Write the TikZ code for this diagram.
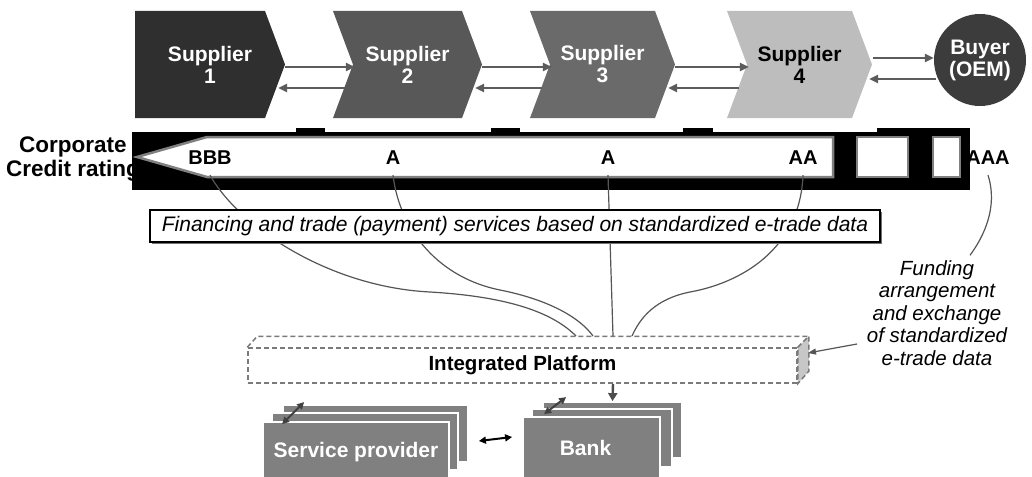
\documentclass[tikz,border=0pt]{standalone}
\usepackage{fontspec}
\setmainfont{Liberation Sans}
\usetikzlibrary{arrows.meta,shadows}
\definecolor{sone}{HTML}{2F2F2F}
\definecolor{stwo}{HTML}{585858}
\definecolor{sthree}{HTML}{6A6A6A}
\definecolor{sfour}{HTML}{BDBDBD}
\definecolor{buyc}{HTML}{3C3C3C}
\definecolor{flowc}{HTML}{5C5C5C}
\definecolor{outl}{HTML}{808080}
\definecolor{linec}{HTML}{555555}
\definecolor{dashc}{HTML}{7A7A7A}
\definecolor{stackc}{HTML}{808080}
\begin{document}
\begin{tikzpicture}[x=1pt,y=-1pt,
  lbl/.style={font=\fontsize{21}{21}\selectfont\bfseries, text=white, align=center, inner sep=0pt},
  flow/.style={draw=flowc, line width=2.4pt, -{Triangle[length=9pt,width=8pt]}},
  rate/.style={font=\fontsize{20}{20}\selectfont\bfseries, inner sep=0pt, minimum height=34pt},
  conn/.style={draw=linec, line width=1.2pt},
  dashline/.style={draw=dashc, line width=1.5pt, dash pattern=on 5pt off 3pt},
  stackbox/.style={fill=stackc, draw=white, line width=1.8pt, inner sep=0pt},
  dbl/.style={draw=black!75, line width=2pt, {Triangle[length=7pt,width=7pt]}-{Triangle[length=7pt,width=7pt]}}
]
\useasboundingbox (0,0) rectangle (1032,476);

% supplier chevrons
\fill[sone] (135,11) -- (265,11) -- (285,64.5) -- (265,118) -- (135,118) -- cycle;
\fill[stwo] (333,11) -- (462,11) -- (482,64.5) -- (462,118) -- (333,118) -- (353,64.5) -- cycle;
\fill[sthree] (530,11) -- (655,11) -- (675,64.5) -- (655,118) -- (530,118) -- (550,64.5) -- cycle;
\fill[sfour] (727,11) -- (852,11) -- (872,64.5) -- (852,118) -- (727,118) -- (747,64.5) -- cycle;

\node[lbl, minimum width=150pt, minimum height=107pt] (s1) at (210,64.5) {Supplier\\[1pt]1};
\node[lbl, minimum width=149pt, minimum height=107pt] (s2) at (407.5,64.5) {Supplier\\[1pt]2};
\node[lbl, minimum width=145pt, minimum height=107pt] (s3) at (602.5,64.5) {Supplier\\[1pt]3};
\node[lbl, text=black, minimum width=145pt, minimum height=107pt] (s4) at (799.5,64.5) {Supplier\\[1pt]4};
\node[lbl, circle, fill=buyc, minimum size=92pt] (buyer) at (980,60) {Buyer\\[1pt](OEM)};

% flows between suppliers
\draw[flow] ([yshift=-2.5pt]s1.east) -- ([xshift=22pt,yshift=-2.5pt]s2.west);
\draw[flow] ([xshift=12pt,yshift=-23.5pt]s2.west) -- ([xshift=-7pt,yshift=-23.5pt]s1.east);
\draw[flow] ([yshift=-2.5pt]s2.east) -- ([xshift=22pt,yshift=-2.5pt]s3.west);
\draw[flow] ([xshift=12pt,yshift=-23.5pt]s3.west) -- ([xshift=-7pt,yshift=-23.5pt]s2.east);
\draw[flow] ([yshift=-2.5pt]s3.east) -- ([xshift=22pt,yshift=-2.5pt]s4.west);
\draw[flow] ([xshift=12pt,yshift=-23.5pt]s4.west) -- ([xshift=-7pt,yshift=-23.5pt]s3.east);
\draw[flow] ([xshift=1pt,yshift=6.5pt]s4.east) -- ([yshift=6.5pt]s4.east -| buyer.west);
\draw[flow] ([xshift=2pt,yshift=-14.5pt]s4.east -| buyer.west) -- ([xshift=-3pt,yshift=-14.5pt]s4.east);

% corporate credit rating
\node[font=\fontsize{22.5}{24}\selectfont\bfseries, align=center, inner sep=0pt] (cr) at (73,159) {Corporate\\Credit rating};
\fill[black] (132,132) rectangle (970,190);
\fill[black] (296,128) rectangle (325,133);
\fill[black] (491,128) rectangle (520,133);
\fill[black] (683,128) rectangle (713,133);
\fill[black] (877,128) rectangle (970,133);
\draw[draw=outl, line width=2.5pt, fill=white] (137,157) -- (207,137) -- (833,137) -- (833,177) -- (207,177) -- cycle;
\draw[draw=outl, line width=2.5pt, fill=white] (857,137) rectangle (908,177);
\draw[draw=outl, line width=2.5pt, fill=white] (933,137) rectangle (960,177);

\node[rate] (bbb) at (210,158) {BBB};
\node[rate] (a1) at (393,158) {A};
\node[rate] (a2) at (608,158) {A};
\node[rate] (aa) at (803,158) {AA};
\node[rate] (aaa) at (988,158) {AAA};

% platform
\node[dashline, minimum width=549pt, minimum height=35pt, inner sep=0pt,
      font=\fontsize{20.5}{20.5}\selectfont\bfseries] (plat) at (522.5,365.5) {Integrated Platform};
\draw[dashline] (plat.north west) -- ++(10,-11) -- ++(550,0);
\filldraw[dashline, fill=black!22] (plat.north east) -- ++(11,-11) -- ++(0,35) -- (plat.south east) -- cycle;

\coordinate (p1) at (576,336);
\coordinate (p2) at (593,336);
\coordinate (p3) at (613,336);
\coordinate (p4) at (632,336);

% connectors from ratings to platform
\draw[conn] (bbb.south) .. controls (240,228) and (330,287) .. (430,292) .. controls (515,297) and (555,315) .. (p1);
\draw[conn] (a1.south) .. controls (400,232) and (440,278) .. (500,290) .. controls (550,300) and (580,318) .. (p2);
\draw[conn] (a2.south) -- (p3);
\draw[conn] (aa.south) .. controls (800,250) and (740,283) .. (690,292) .. controls (655,299) and (640,318) .. (p4);

% financing box
\node[draw=black, line width=1.2pt, fill=white, minimum width=730pt, minimum height=32pt, inner sep=0pt,
      font=\fontsize{21}{21}\selectfont\itshape,
      drop shadow={shadow xshift=2pt, shadow yshift=-2pt, fill=black!55, opacity=1}] (fin) at (515,226)
      {Financing and trade (payment) services based on standardized e-trade data};

% funding note
\node[font=\fontsize{20.5}{22.5}\selectfont\itshape, align=center, inner sep=0pt] (fund) at (937,313)
  {Funding\\arrangement\\and exchange\\of standardized\\e-trade data};
\draw[conn] (aaa.south) .. controls (996,200) and (990,228) .. ([xshift=33pt,yshift=5pt]fund.north);
\coordinate (fa) at (857,344);
\coordinate (pr) at (808,353);
\draw[conn, -{Triangle[length=8pt,width=6pt]}] (fa) .. controls (835,348) .. (pr);

% stacks
\node[stackbox, minimum width=185pt, minimum height=57pt] (servB) at (375.5,433.5) {};
\node[stackbox, minimum width=186pt, minimum height=57pt] (servM) at (365,441.5) {};
\node[stackbox, minimum width=186pt, minimum height=60pt, text=white,
      font=\fontsize{21}{21}\selectfont\bfseries] (servF) at (356,452) {Service provider};

\node[stackbox, minimum width=139pt, minimum height=56pt] (bankB) at (612.5,430) {};
\node[stackbox, minimum width=140pt, minimum height=58pt] (bankM) at (602,438) {};
\node[stackbox, minimum width=137pt, minimum height=62pt, text=white,
      font=\fontsize{21}{21}\selectfont\bfseries] (bankF) at (591.5,448) {\hspace*{-12pt}Bank};

\draw[draw=black!70, line width=2.4pt, -{Triangle[length=8pt,width=9pt]}] ([xshift=90.5pt]plat.south) -- (bankB.north);
\draw[dbl] ([xshift=20pt,yshift=-3pt]servF.north west) -- ([xshift=22pt,yshift=2pt]servB.north west);
\draw[dbl] ([xshift=22pt,yshift=2pt]bankF.north west) -- ([xshift=24pt,yshift=4pt]bankB.north west);
\draw[dbl, draw=black] ([xshift=29pt,yshift=11pt]servF.east) -- ([xshift=-10pt,yshift=11pt]bankF.west);
\end{tikzpicture}
\end{document}
